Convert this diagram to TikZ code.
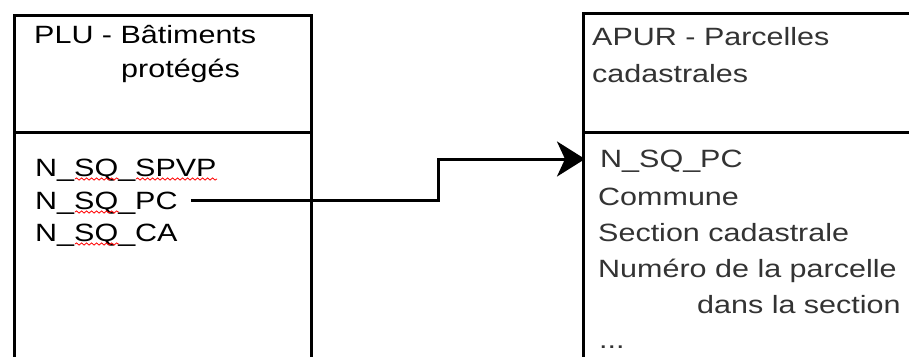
\documentclass[tikz,border=0pt]{standalone}
\usepackage{fontspec}
\setmainfont[FakeStretch=1.22]{Liberation Sans}
\usetikzlibrary{arrows.meta,decorations.pathmorphing}
\definecolor{rtext}{rgb}{0.2,0.2,0.2}
\tikzset{
  boxline/.style={line width=3pt, line join=miter},
  lbl/.style={anchor=base west, inner sep=0pt, font=\fontsize{25}{30}\selectfont},
  ltxt/.style={lbl, text=black},
  rtxt/.style={lbl, text=rtext},
  conn/.style={line width=3pt, -{Stealth[length=28pt,width=35pt,inset=8pt]}},
  spell/.style={red, line width=0.8pt, decorate, decoration={snake, amplitude=1.1pt, segment length=5pt}}
}
\begin{document}
\begin{tikzpicture}[x=1pt,y=-1pt]
\useasboundingbox (0,0) rectangle (909,356);
\clip (0,0) rectangle (909,356);
\fill[white] (0,0) rectangle (909,356);
% left box
\draw[boxline] (14,420) -- (14,15) -- (311,15) -- (311,420);
\draw[boxline] (14,132) -- (311,132);
% right box
\draw[boxline] (583,420) -- (583,13) -- (960,13);
\draw[boxline] (583,132) -- (960,132);
% left texts
\node[ltxt] (lh1) at (34,43) {PLU - Bâtiments};
\node[ltxt] (lh2) at (121,77) {protégés};
\node[ltxt] (lspvp) at (35,176) {N\_SQ\_SPVP};
\node[ltxt] (lpc) at (35,209) {N\_SQ\_PC};
\node[ltxt] (lca) at (35,241) {N\_SQ\_CA};
% right texts
\node[rtxt] (rh1) at (592,45) {APUR - Parcelles};
\node[rtxt] (rh2) at (592,82) {cadastrales};
\node[rtxt] (rpc) at (600,167) {N\_SQ\_PC};
\node[rtxt] (rcom) at (598,205) {Commune};
\node[rtxt] (rsec) at (598,241) {Section cadastrale};
\node[rtxt] (rnum) at (598,277) {Numéro de la parcelle};
\node[rtxt] (rdans) at (697,313) {dans la section};
\node[rtxt] (rdots) at (599,348) {...};
% spell-check marks
\draw[spell] (75,179) -- (119,179);
\draw[spell] (136,179) -- (217,179);
\draw[spell] (75,212) -- (119,212);
\draw[spell] (75,244) -- (119,244);
% connector
\coordinate (start) at ([shift={(13,-9)}]lpc.base east);
\coordinate (jog) at (438,159);
\coordinate (tip) at (585,159);
\draw[conn] (start) -| (jog) -- (tip);
\end{tikzpicture}
\end{document}
